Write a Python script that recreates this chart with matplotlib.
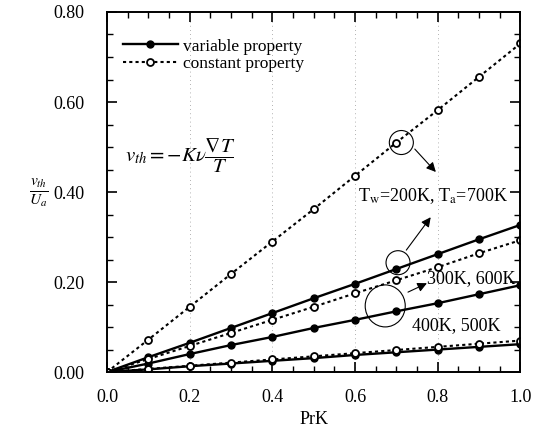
import numpy as np
import matplotlib
matplotlib.use("Agg")
import matplotlib.pyplot as plt
from matplotlib.patches import Ellipse
from matplotlib.ticker import MultipleLocator

plt.rcParams['font.family'] = ['Liberation Serif', 'DejaVu Serif']
plt.rcParams['mathtext.fontset'] = 'stix'

# PrK values
prk = [0.0, 0.1, 0.2, 0.3, 0.4, 0.5, 0.6, 0.7, 0.8, 0.9, 1.0]

# constant property curves
const_200_700 = [0.0, 0.072, 0.145, 0.218, 0.290, 0.362, 0.436, 0.510, 0.582, 0.656, 0.730]
const_300_600 = [0.0, 0.029, 0.058, 0.087, 0.116, 0.145, 0.175, 0.204, 0.233, 0.264, 0.293]
const_400_500 = [0.0, 0.007, 0.014, 0.021, 0.028, 0.035, 0.042, 0.049, 0.056, 0.063, 0.070]

# variable property curves
var_200_700 = [0.0, 0.033, 0.065, 0.098, 0.131, 0.164, 0.196, 0.229, 0.262, 0.295, 0.327]
var_300_600 = [0.0, 0.019, 0.040, 0.060, 0.078, 0.098, 0.116, 0.135, 0.153, 0.173, 0.193]
var_400_500 = [0.0, 0.006, 0.013, 0.019, 0.025, 0.031, 0.038, 0.044, 0.050, 0.056, 0.062]

fig = plt.figure(figsize=(5.39, 4.44), dpi=100)
ax = fig.add_axes([0.1985, 0.162, 0.767, 0.811])

# faint vertical guides
for xv in [0.2, 0.4, 0.6, 0.8]:
    ax.axvline(xv, color='#999999', lw=0.6, ls=(0, (1, 4)), zorder=0)

solid_kw = dict(color='black', lw=1.7, marker='o', ms=5, mfc='black', mec='black')
dot_kw = dict(color='black', lw=1.5, ls=(0, (1.5, 1.5)), marker='o', ms=5,
              mfc='white', mec='black', mew=1.3)

ax.plot(prk, var_200_700, label='variable property', **solid_kw)
ax.plot(prk, var_300_600, **solid_kw)
ax.plot(prk, var_400_500, **solid_kw)
ax.plot(prk, const_200_700, label='constant property', **dot_kw)
ax.plot(prk, const_300_600, **dot_kw)
ax.plot(prk, const_400_500, **dot_kw)

ax.set_xlim(0, 1.0)
ax.set_ylim(0, 0.8)
ax.xaxis.set_major_locator(MultipleLocator(0.2))
ax.xaxis.set_minor_locator(MultipleLocator(0.05))
ax.yaxis.set_major_locator(MultipleLocator(0.2))
ax.yaxis.set_minor_locator(MultipleLocator(0.05))
ax.xaxis.set_major_formatter(plt.FormatStrFormatter('%.1f'))
ax.yaxis.set_major_formatter(plt.FormatStrFormatter('%.2f'))
ax.tick_params(which='both', direction='in', top=True, right=True, labelsize=13)
ax.tick_params(which='major', length=7, width=1.2)
ax.tick_params(axis='x', which='major', pad=12)
ax.tick_params(axis='y', which='major', pad=16)
ax.tick_params(which='minor', length=4, width=1.0)
for sp in ax.spines.values():
    sp.set_linewidth(1.4)

ax.set_xlabel('PrK', fontsize=13, labelpad=4)
# y label sits as a horizontal fraction left of the tick labels
fig.text(0.071, 0.565, r'$\frac{v_{th}}{U_a}$', fontsize=16, ha='center', va='center')

ax.legend(loc='upper left', bbox_to_anchor=(0.0, 0.97), frameon=False, fontsize=12.5,
          handlelength=3.2, handletextpad=0.3, labelspacing=0.05, borderaxespad=0.5)

ax.text(0.044, 0.48, r'$v_{th}=-K\nu\dfrac{\nabla T}{T}$', fontsize=15, va='center')

# circled groups with arrows to their labels
sx, sy = 1 / 413.0, 1 / 450.0
ax.add_patch(Ellipse((0.712, 0.51), 24 * sx, 24 * sy, fill=False, lw=0.8))
ax.add_patch(Ellipse((0.704, 0.243), 24 * sx, 24 * sy, fill=False, lw=0.8))
ax.add_patch(Ellipse((0.673, 0.147), 40 * sx, 42 * sy, fill=False, lw=0.8))

ax.annotate('', xy=(0.80, 0.44), xytext=(0.74, 0.50),
            arrowprops=dict(arrowstyle='-|>', color='black', lw=0.8, mutation_scale=14))
ax.annotate('', xy=(0.787, 0.349), xytext=(0.72, 0.266),
            arrowprops=dict(arrowstyle='-|>', color='black', lw=0.8, mutation_scale=14))
ax.annotate('', xy=(0.78, 0.20), xytext=(0.722, 0.175),
            arrowprops=dict(arrowstyle='-|>', color='black', lw=0.8, mutation_scale=14))

ax.text(0.607, 0.39, r'T$_{\rm w}$=200K, T$_{\rm a}$=700K', fontsize=13, va='center')
ax.text(0.775, 0.208, '300K, 600K', fontsize=13, va='center')
ax.text(0.738, 0.104, '400K, 500K', fontsize=13, va='center')

fig.savefig('out.png', dpi=100)
